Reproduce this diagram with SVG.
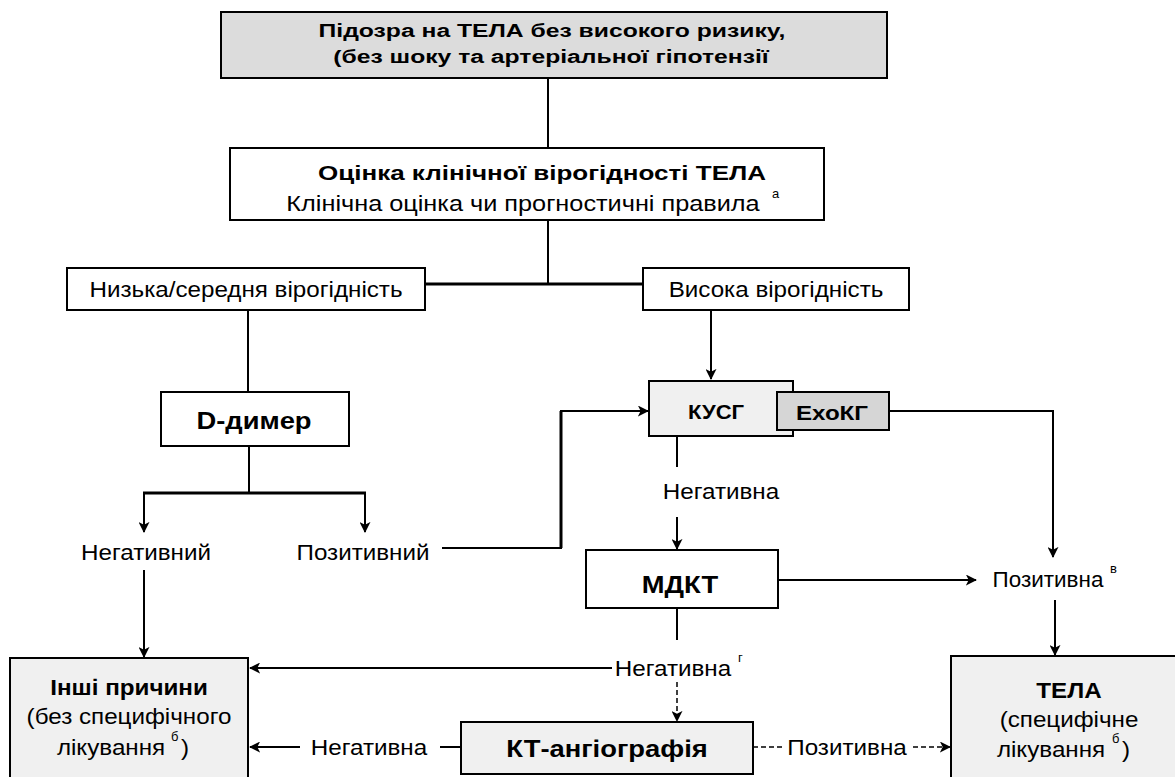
<svg xmlns="http://www.w3.org/2000/svg" width="1175" height="777" viewBox="0 0 1175 777">
<defs>
<marker id="ah" viewBox="0 0 12 12" refX="11" refY="6" markerWidth="11" markerHeight="11" markerUnits="userSpaceOnUse" orient="auto">
<path d="M0,0 L12,6 L0,12 L3,6 Z" fill="#000"/>
</marker>
</defs>
<style>
.box{stroke:#000;stroke-width:2;}
.w{fill:#fff}
.g{fill:#dcdcdc}
.lg{fill:#f0f0f0}
.mg{fill:#d6d6d6}
text{font-family:"Liberation Sans",Arial,sans-serif;fill:#000;text-anchor:middle;font-size:22px}
.b{font-weight:bold}
.t{font-size:19px}
.m{font-size:21px}
.big{font-size:24px}
.ln{stroke:#000;stroke-width:2;fill:none}
.th{stroke:#000;stroke-width:3;fill:none}
.d{stroke:#000;stroke-width:1.5;fill:none;stroke-dasharray:5,3}
.sup{font-size:13px;text-anchor:start}
</style>
<g id="connectors">
<line class="ln" x1="548" y1="78" x2="548" y2="148"/>
<line class="ln" x1="548" y1="220" x2="548" y2="284"/>
<line class="th" x1="425" y1="284" x2="643" y2="284"/>
<line class="ln" x1="248" y1="310" x2="248" y2="392"/>
<line class="ln" x1="249" y1="446" x2="249" y2="493"/>
<line class="th" x1="143" y1="493" x2="366" y2="493"/>
<path class="ln" d="M144,493 V532" marker-end="url(#ah)"/>
<path class="ln" d="M365,493 V532" marker-end="url(#ah)"/>
<path class="ln" d="M442,548 H561 V411 H648" marker-end="url(#ah)"/>
<line class="th" x1="561" y1="548" x2="561" y2="411"/>
<path class="ln" d="M711,310 V379" marker-end="url(#ah)"/>
<path class="ln" d="M889,411 H1053 V557" marker-end="url(#ah)"/>
<line class="ln" x1="677" y1="436" x2="677" y2="467"/>
<path class="ln" d="M677,517 V549" marker-end="url(#ah)"/>
<path class="ln" d="M778,580 H976" marker-end="url(#ah)"/>
<path class="ln" d="M1055,600 V655" marker-end="url(#ah)"/>
<line class="ln" x1="677" y1="608" x2="677" y2="640"/>
<path class="ln" d="M612,668 H250" marker-end="url(#ah)"/>
<path class="d" d="M677,682 V721" marker-end="url(#ah)"/>
<line class="ln" x1="461" y1="747" x2="440" y2="747"/>
<path class="ln" d="M300,747 H250" marker-end="url(#ah)"/>
<line class="d" x1="753" y1="747" x2="783" y2="747"/>
<path class="d" d="M913,747 H950" marker-end="url(#ah)"/>
<path class="ln" d="M144,570 V657" marker-end="url(#ah)"/>
</g>
<g id="n-start">
<rect class="box g" x="221" y="12" width="666" height="66"/>
<text class="b t" transform="translate(552,37) scale(1.3,1)">Підозра на ТЕЛА без високого ризику,</text>
<text class="b t" transform="translate(551,63) scale(1.3,1)">(без шоку та артеріальної гіпотензії</text>
</g>
<g id="n-assess">
<rect class="box w" x="230" y="148" width="594" height="72"/>
<text class="b m" transform="translate(542,180) scale(1.24,1)">Оцінка клінічної вірогідності ТЕЛА</text>
<text transform="translate(523,211) scale(1.15,1)">Клінічна оцінка чи прогностичні правила</text>
<text class="sup" x="772" y="198">а</text>
</g>
<g id="n-low">
<rect class="box w" x="67" y="268" width="358" height="42"/>
<text transform="translate(246,297) scale(1.1,1)">Низька/середня вірогідність</text>
</g>
<g id="n-high">
<rect class="box w" x="643" y="268" width="266" height="42"/>
<text transform="translate(776,297) scale(1.1,1)">Висока вірогідність</text>
</g>
<g id="n-ddimer">
<rect class="box w" x="161" y="392" width="188" height="54"/>
<text class="b big" transform="translate(254,429) scale(1.14,1)">D-димер</text>
</g>
<g id="n-neg1"><text transform="translate(146,560) scale(1.1,1)">Негативний</text></g>
<g id="n-pos1"><text transform="translate(363,560) scale(1.1,1)">Позитивний</text></g>
<g id="n-kusg">
<rect class="box lg" x="649" y="381" width="144" height="55"/>
<text class="b m" transform="translate(716,419) scale(1.05,1)">КУСГ</text>
</g>
<g id="n-echo">
<rect class="box mg" x="777" y="392" width="112" height="38"/>
<text class="b m" transform="translate(832,420) scale(1.15,1)">ЕхоКГ</text>
</g>
<g id="n-neg2"><text transform="translate(721,499) scale(1.1,1)">Негативна</text></g>
<g id="n-mdkt">
<rect class="box w" x="586" y="550" width="192" height="58"/>
<text class="b big" transform="translate(680,593) scale(1.14,1)">МДКТ</text>
</g>
<g id="n-pos2">
<text transform="translate(1048,587) scale(1.02,1)">Позитивна</text>
<text class="sup" x="1110" y="573">в</text>
</g>
<g id="n-neg3">
<text transform="translate(673,676) scale(1.1,1)">Негативна</text>
<text class="sup" x="738" y="662">г</text>
</g>
<g id="n-ct">
<rect class="box lg" x="461" y="722" width="292" height="52"/>
<text class="b big" transform="translate(607,757) scale(1.14,1)">КТ-ангіографія</text>
</g>
<g id="n-neg4"><text transform="translate(369,755) scale(1.1,1)">Негативна</text></g>
<g id="n-pos3"><text transform="translate(847,755) scale(1.1,1)">Позитивна</text></g>
<g id="n-other">
<rect class="box lg" x="10" y="658" width="238" height="125"/>
<text class="b" transform="translate(129,695) scale(1.1,1)">Інші причини</text>
<text transform="translate(129,724) scale(1.1,1)">(без специфічного</text>
<text transform="translate(111,755) scale(1.1,1)">лікування</text>
<text class="sup" x="171" y="741">б</text>
<text transform="translate(185,755) scale(1.1,1)">)</text>
</g>
<g id="n-tela">
<rect class="box lg" x="951" y="656" width="240" height="130"/>
<text class="b" transform="translate(1069,698) scale(1.1,1)">ТЕЛА</text>
<text transform="translate(1069,727) scale(1.1,1)">(специфічне</text>
<text transform="translate(1051,757) scale(1.1,1)">лікування</text>
<text class="sup" x="1112" y="743">б</text>
<text transform="translate(1126,757) scale(1.1,1)">)</text>
</g>
</svg>
